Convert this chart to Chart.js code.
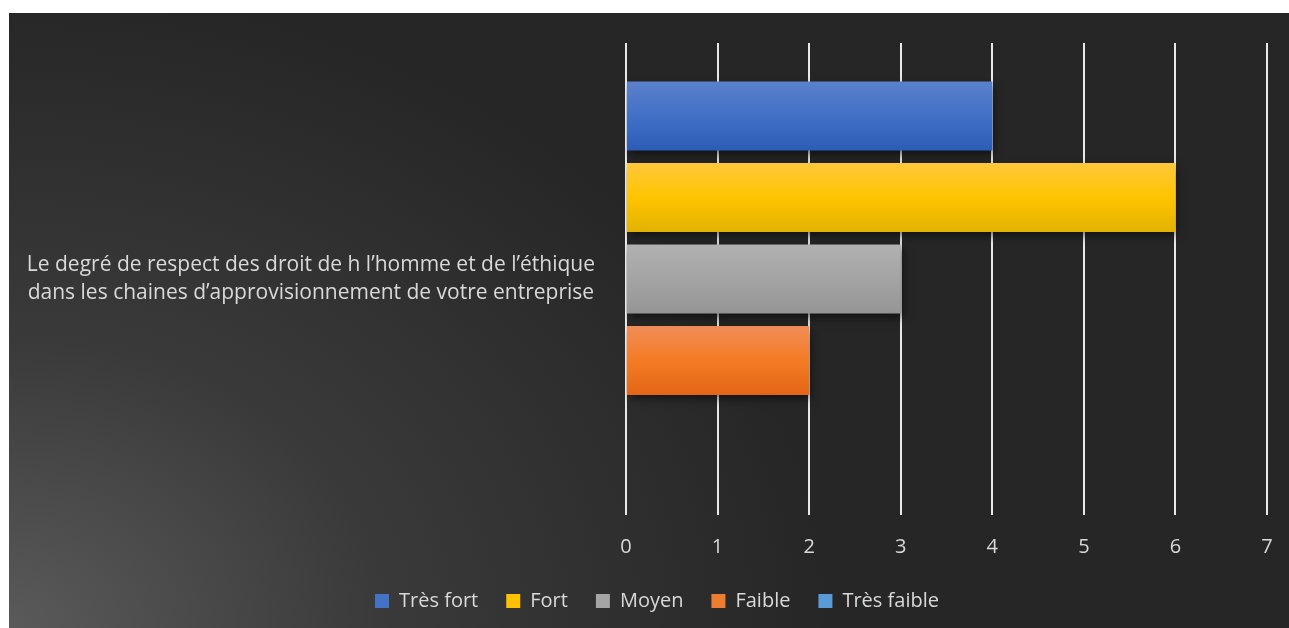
<!DOCTYPE html>
<html>
<head>
<meta charset="utf-8">
<script src="https://cdn.jsdelivr.net/npm/chart.js@4"></script>
<style>
  html, body { margin: 0; padding: 0; background: #fff; }
  #frame {
    position: absolute; left: 9px; top: 13px; width: 1280px; height: 615px;
    background: radial-gradient(ellipse 820px 640px at 0% 100%, #5a5a5a 0%, #3a3a3a 45%, #262626 100%);
  }
</style>
</head>
<body>
<div id="frame"><canvas id="chart" width="1280" height="615"></canvas></div>
<script>
// données
const categories = [["Le degré de respect des droit de h l\u2019homme et de l\u2019éthique", "dans les chaines d\u2019approvisionnement de votre entreprise"]];
const seriesNames = ["Très fort", "Fort", "Moyen", "Faible", "Très faible"];
const seriesValues = [4, 6, 3, 2, 0];
const xTicks = [0, 1, 2, 3, 4, 5, 6, 7];

// couleurs (legende + degradés des barres)
const solidColors = ["#4472c4", "#ffc000", "#a5a5a5", "#ed7d31", "#5b9bd5"];
const gradStops = [
    ["#5b81ca", "#4170c6", "#2c5cb5"],
    ["#ffc83c", "#ffc400", "#e2b200"],
    ["#b1b1b1", "#a4a4a4", "#959595"],
    ["#f08d58", "#f47b24", "#e36616"],
    ["#6aa5dc", "#5b9bd5", "#4a87c2"],
];

const datasets = seriesNames.map((name, i) => ({
    label: name,
    data: [seriesValues[i]],
    backgroundColor: solidColors[i],
    borderWidth: 0,
}));

// degradé vertical sur chaque barre + ombre
const barGradient = {
    id: "barGradient",
    afterLayout(chart) {
        // legende un peu decalee a droite comme dans excel
        chart.legend.left += 19;
        chart.legend.right += 19;
    },
    beforeDatasetsDraw(chart) {
        const ctx = chart.ctx;
        chart.data.datasets.forEach((ds, i) => {
            chart.getDatasetMeta(i).data.forEach((el) => {
                const top = el.y - el.height / 2;
                const bottom = el.y + el.height / 2;
                const g = ctx.createLinearGradient(0, top, 0, bottom);
                g.addColorStop(0, gradStops[i][0]);
                g.addColorStop(0.5, gradStops[i][1]);
                g.addColorStop(1, gradStops[i][2]);
                el.options = Object.assign({}, el.options, { backgroundColor: g });
            });
        });
    },
    beforeDatasetDraw(chart) {
        const ctx = chart.ctx;
        ctx.save();
        ctx.shadowColor = "rgba(0,0,0,0.55)";
        ctx.shadowBlur = 9;
        ctx.shadowOffsetX = 2;
        ctx.shadowOffsetY = 4;
    },
    afterDatasetDraw(chart) {
        chart.ctx.restore();
    },
};

const font = { family: "'Open Sans', sans-serif", size: 20 };

const config = {
    type: "bar",
    data: { labels: categories, datasets: datasets },
    options: {
        indexAxis: "y",
        responsive: false,
        animation: false,
        categoryPercentage: 0.863,
        barPercentage: 0.847,
        layout: { padding: { top: 30, right: 22, bottom: 7, left: 0 } },
        plugins: {
            legend: {
                position: "bottom",
                labels: {
                    color: "#d9d9d9",
                    font: font,
                    boxWidth: 14,
                    boxHeight: 14,
                    padding: 28,
                    generateLabels(chart) {
                        const items = Chart.defaults.plugins.legend.labels.generateLabels(chart);
                        items.forEach((it, i) => {
                            it.fillStyle = solidColors[i];
                            it.strokeStyle = solidColors[i];
                            it.lineWidth = 0;
                        });
                        return items;
                    },
                },
            },
            tooltip: { enabled: false },
        },
        scales: {
            x: {
                min: 0,
                max: 7,
                afterBuildTicks(axis) {
                    axis.ticks = xTicks.map((v) => ({ value: v }));
                },
                grid: { color: "#e8e8e8", lineWidth: 2, drawTicks: false },
                border: { display: false },
                ticks: { color: "#d9d9d9", font: font, padding: 20 },
                afterFit(axis) {
                    axis.height = 48;
                    axis.paddingLeft = 0;
                    axis.paddingRight = 0;
                },
            },
            y: {
                grid: { display: false },
                border: { display: false },
                ticks: {
                    color: "#d9d9d9",
                    font: { family: font.family, size: 21, lineHeight: 1.3 },
                    padding: 23,
                    crossAlign: "center",
                },
                afterFit(axis) {
                    axis.width = 617;
                    axis.paddingTop = 0;
                    axis.paddingBottom = 0;
                },
            },
        },
    },
    plugins: [barGradient],
};

var ctx = document.getElementById("chart").getContext("2d");
var chart = new Chart(ctx, config);
</script>
</body>
</html>
